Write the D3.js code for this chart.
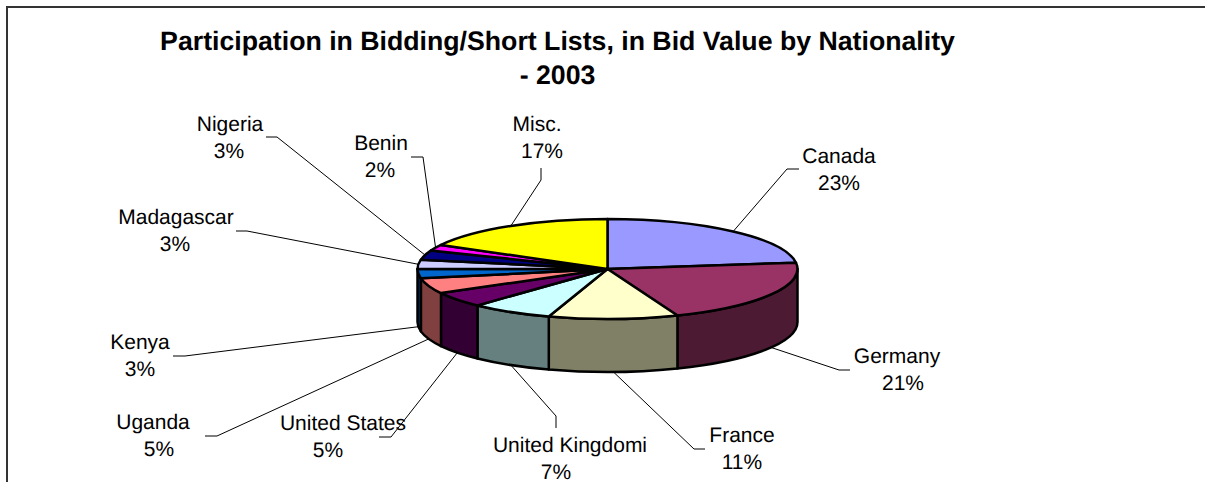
<!DOCTYPE html>
<html><head><meta charset="utf-8">
<style>html,body{margin:0;padding:0;background:#fff}svg{display:block}text{font-family:"Liberation Sans",Arial,sans-serif;fill:#000;text-rendering:geometricPrecision}</style>
<script src="https://cdn.jsdelivr.net/npm/d3@7/dist/d3.min.js"></script></head><body><svg id="c" width="1205" height="482"></svg>
<script>
const categories=["Canada","Germany","France","United Kingdomi","United States","Uganda","Kenya","Madagascar","Nigeria","Benin","Misc."];
const values=[23,21,11,7,5,5,3,3,3,2,17];
const topColors=["#9999FF","#993366","#FFFFCC","#CCFFFF","#660066","#FF8080","#0066CC","#CCCCFF","#000080","#FF00FF","#FFFF00"];
const titleLines=["Participation in Bidding/Short Lists, in Bid Value by Nationality","- 2003"];
// label layout: [name centre x, percent centre x, first baseline, leader start, leader elbow]
const labelLayout=[
[839,839,163,[799,169],[787,169]],
[897,903,363,[850,370],[839,370]],
[742,742,442,[705,449],[694,449]],
[570,556,452,[556,428],[556,416]],
[343,328,430,[379,437],[391,437]],
[153,159,429,[205,436],[217,436]],
[140,140,349,[173,356],[185,356]],
[176,175,224,[236,231],[247,231]],
[230,229,131,[266,137],[277,137]],
[381,380,150,[411,157],[423,157]],
[537,542,131,[541,168],[541,180]]];
const W=1205,H=482,cx=607.5,cy=269,rx=190,ry=50,depth=53;
const svg=d3.select("#c");
svg.append("path").attr("d",`M7 ${H}V7H${W}`).attr("fill","none").attr("stroke","#333").attr("stroke-width",2);
const arcs=d3.pie().sort(null).value(d=>d).startAngle(0).endAngle(2*Math.PI)(values);
const px=t=>cx+rx*Math.sin(t), py=t=>cy-ry*Math.cos(t);
const sideColor=c=>{const k=d3.rgb(c);return d3.rgb(k.r/2,k.g/2,k.b/2).formatHex()};
const g=svg.append("g");
const lo=Math.PI/2,hi=3*Math.PI/2;
g.selectAll("path.wall").data(arcs.filter(a=>a.endAngle>lo&&a.startAngle<hi)).join("path").attr("class","wall")
 .attr("d",a=>{const s=Math.max(a.startAngle,lo),e=Math.min(a.endAngle,hi);
  return `M${px(s)} ${py(s)}A${rx} ${ry} 0 0 1 ${px(e)} ${py(e)}V${py(e)+depth}A${rx} ${ry} 0 0 0 ${px(s)} ${py(s)+depth}Z`;})
 .attr("fill",a=>sideColor(topColors[a.index])).attr("stroke","#000").attr("stroke-width",2.5).attr("stroke-linejoin","round");
const arc=d3.arc().innerRadius(0).outerRadius(rx);
g.selectAll("path.top").data(arcs).join("path").attr("class","top").attr("d",arc)
 .attr("transform",`translate(${cx},${cy}) scale(1,${ry/rx})`)
 .attr("vector-effect","non-scaling-stroke")
 .attr("fill",a=>topColors[a.index]).attr("stroke","#000").attr("stroke-width",2.5).attr("stroke-linejoin","round");
const anchor=a=>{const t=(a.startAngle+a.endAngle)/2;const front=t>lo&&t<hi;return [px(t),py(t)+(front?depth:0)]};
const line=d3.line();
svg.append("g").selectAll("path").data(arcs).join("path")
 .attr("d",a=>{const L=labelLayout[a.index];return line([L[3],L[4],anchor(a)])})
 .attr("fill","none").attr("stroke","#000").attr("stroke-width",1);
const lab=svg.append("g").attr("font-size",21);
arcs.forEach(a=>{const L=labelLayout[a.index];
 lab.append("text").attr("x",L[0]).attr("y",L[2]).attr("text-anchor","middle").text(categories[a.index]);
 lab.append("text").attr("x",L[1]).attr("y",L[2]+27).attr("text-anchor","middle").text(values[a.index]+"%");
});
titleLines.forEach((t,i)=>svg.append("text").attr("x",557.5).attr("y",50+i*34).attr("text-anchor","middle").attr("font-weight","bold").attr("font-size",26.7).text(t));
</script></body></html>
